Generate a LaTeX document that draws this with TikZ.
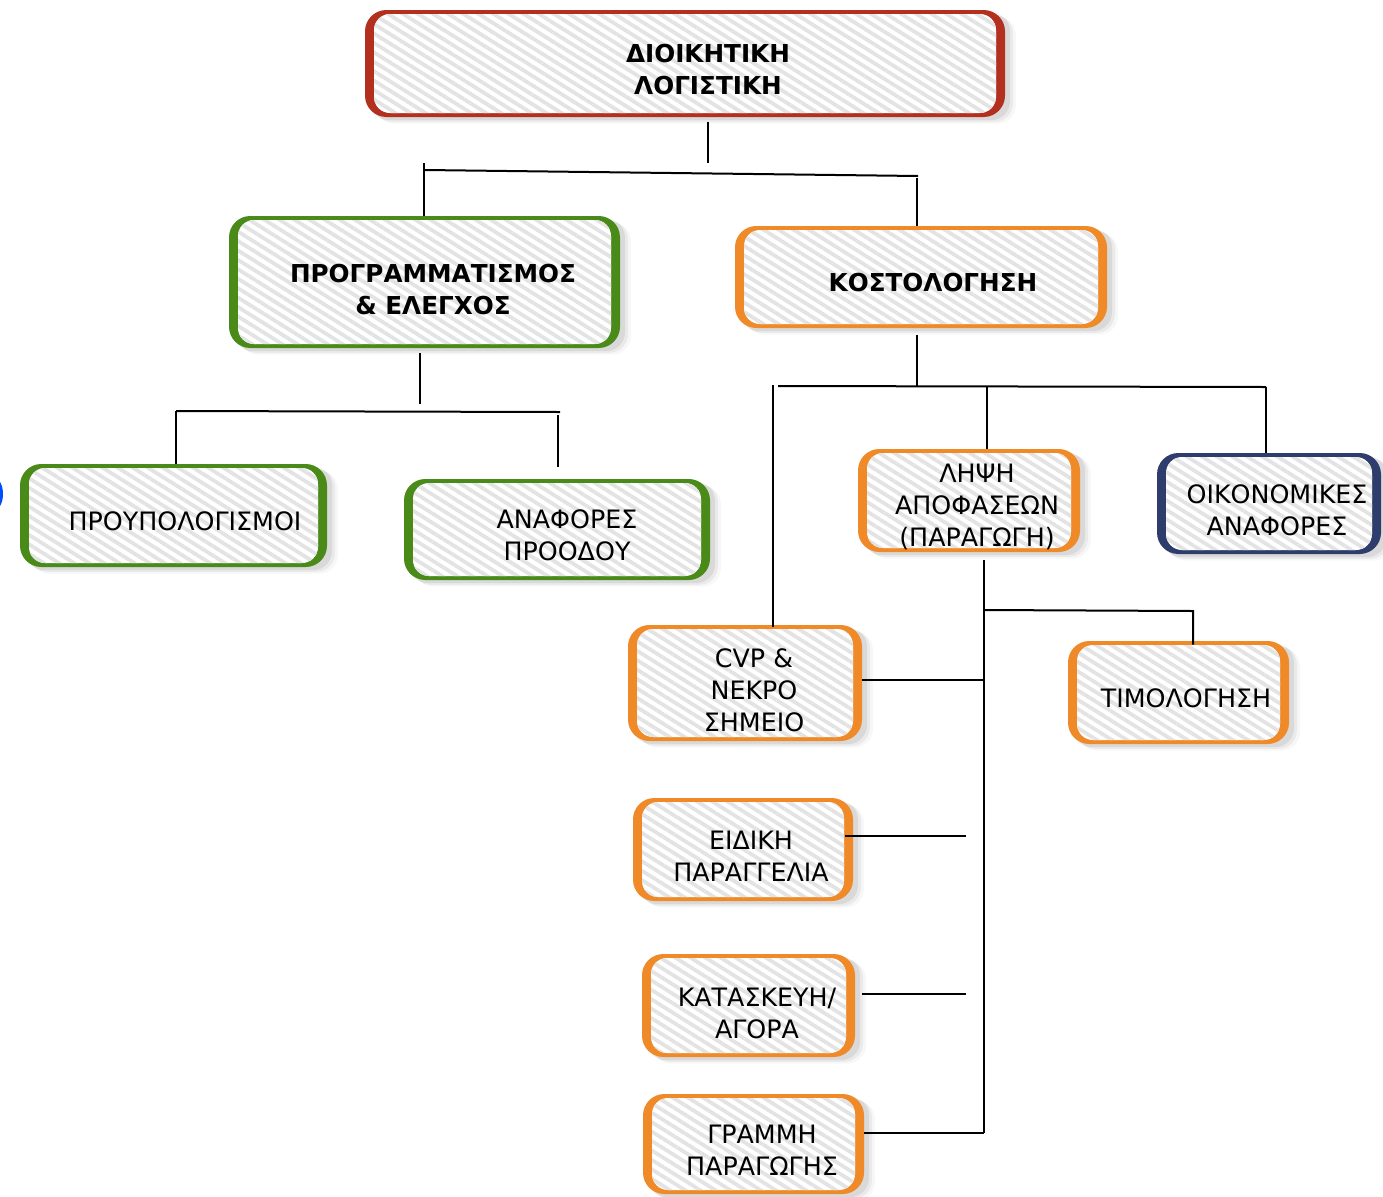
\documentclass[tikz,border=0pt]{standalone}
\usepackage{fontspec}
\setmainfont{DejaVu Sans}
\usetikzlibrary{patterns.meta,fit,calc}
\definecolor{cred}{HTML}{B3301F}
\definecolor{cgreen}{HTML}{4A8A18}
\definecolor{corange}{HTML}{F08A28}
\definecolor{cnavy}{HTML}{2E3D6B}
\definecolor{stripe}{HTML}{E3E3E3}
\tikzset{
  conn/.style={line width=1.5pt, black},
  txt/.style={align=center, inner sep=0pt, font=\fontsize{19}{24}\selectfont},
  btxt/.style={txt, font=\fontsize{18.5}{24}\selectfont\bfseries},
}
% #1 name, #2 x1, #3 y1, #4 x2, #5 y2, #6 colour
\newcommand\obox[6]{%
  \foreach \s/\o in {11/0.03,8/0.05,5/0.07}{%
    \fill[black, opacity=\o, rounded corners=14pt] (#2+\s,#3+\s*0.6) rectangle (#4+\s,#5+\s*0.6);}
  \fill[#6, rounded corners=16pt] (#2,#3) rectangle (#4,#5);
  \fill[white, rounded corners=12pt] (#2+9,#3+4) rectangle (#4-9,#5-4);
  \fill[pattern={Lines[angle=-32,distance=6pt,line width=2.8pt]}, pattern color=stripe, rounded corners=12pt] (#2+9,#3+4) rectangle (#4-9,#5-4);
  \node[fit={(#2,#3)(#4,#5)}, inner sep=0pt] (#1) {};
}
\begin{document}
\begin{tikzpicture}[x=0.75pt,y=-0.75pt]
\useasboundingbox (0,0) rectangle (1383,1196);
\fill[white] (0,0) rectangle (1383,1196);
% stray blue fragment at the left edge
\fill[blue!70!cyan] (0,482) .. controls (4,488) and (4,500) .. (0,506) -- cycle;

% boxes
\obox{top}{365}{10}{1005}{117}{cred}
\obox{prog}{229}{216}{620}{348}{cgreen}
\obox{kost}{735}{226}{1107}{328}{corange}
\obox{proyp}{20}{464}{327}{567}{cgreen}
\obox{anaf}{404}{479}{710}{580}{cgreen}
\obox{lipsi}{858}{449}{1080}{552}{corange}
\obox{oik}{1157}{453}{1381}{554}{cnavy}
\obox{cvp}{628}{625}{862}{741}{corange}
\obox{timol}{1068}{641}{1289}{744}{corange}
\obox{eid}{633}{798}{853}{901}{corange}
\obox{kat}{642}{954}{855}{1057}{corange}
\obox{gram}{643}{1094}{864}{1194}{corange}

% texts
\node[btxt] (topt) at (708,70) {ΔΙΟΙΚΗΤΙΚΗ\\ΛΟΓΙΣΤΙΚΗ};
\node[btxt] (progt) at (433,290) {ΠΡΟΓΡΑΜΜΑΤΙΣΜΟΣ\\\& ΕΛΕΓΧΟΣ};
\node[btxt] (kostt) at (933,283) {ΚΟΣΤΟΛΟΓΗΣΗ};
\node[txt] (proypt) at (185,521) {ΠΡΟΥΠΟΛΟΓΙΣΜΟΙ};
\node[txt] (anaft) at (567,535) {ΑΝΑΦΟΡΕΣ\\ΠΡΟΟΔΟΥ};
\node[txt] (lipsit) at (977,507) {ΛΗΨΗ\\ΑΠΟΦΑΣΕΩΝ\\(ΠΑΡΑΓΩΓΗ)};
\node[txt] (oikt) at (1277,510) {ΟΙΚΟΝΟΜΙΚΕΣ\\ΑΝΑΦΟΡΕΣ};
\node[txt] (cvpt) at (754,690) {CVP \&\\ΝΕΚΡΟ\\ΣΗΜΕΙΟ};
\node[txt] (timolt) at (1186,698) {ΤΙΜΟΛΟΓΗΣΗ};
\node[txt] (eidt) at (751,856) {ΕΙΔΙΚΗ\\ΠΑΡΑΓΓΕΛΙΑ};
\node[txt] (katt) at (757,1013) {ΚΑΤΑΣΚΕΥΗ/\\ΑΓΟΡΑ};
\node[txt] (gramt) at (762,1150) {ΓΡΑΜΜΗ\\ΠΑΡΑΓΩΓΗΣ};

% connectors: level 1
\coordinate (a1) at (708,163);
\coordinate (b1) at (425,170);
\coordinate (b2) at (918,176);
\coordinate (b1t) at (424,163);
\coordinate (b2t) at (917,178);
\draw[conn] ($(top.south -| a1)+(0,5)$) -- (a1);
\draw[conn] (b1) -- (b2);
\draw[conn] (b1t) -- (prog.north -| b1t);
\draw[conn] (b2t) -- (kost.north -| b2t);

% level 2 green
\coordinate (c1) at (420,404);
\coordinate (c2) at (176,411);
\coordinate (c3) at (560,412);
\coordinate (c4) at (558,415);
\coordinate (c5) at (558,467);
\draw[conn] ($(prog.south -| c1)+(0,5)$) -- (c1);
\draw[conn] (c2) -- (c3);
\draw[conn] (c2) -- (proyp.north -| c2);
\draw[conn] (c4) -- (c5);

% level 2 orange
\coordinate (d1) at (917,386);
\coordinate (d2) at (778,386);
\coordinate (d3) at (1266,387);
\coordinate (d4) at (773,385);
\coordinate (d5) at (987,387);
\draw[conn] ($(kost.south -| d1)+(0,7)$) -- (d1);
\draw[conn] (d2) -- (d3);
\draw[conn] (d4) -- ($(cvp.north -| d4)+(0,2)$);
\draw[conn] (d5) -- (lipsi.north -| d5);
\draw[conn] (d3) -- (oik.north -| d3);

% level 3
\coordinate (e1) at (984,560);
\coordinate (e2) at (984,1133);
\coordinate (e3) at (984,610);
\coordinate (e4) at (1193,611);
\coordinate (e5) at (984,680);
\coordinate (f1) at (966,836);
\coordinate (f2) at (966,994);
\draw[conn] (e1) -- (e2);
\draw[conn] (e3) -- (e4) -- ($(timol.north -| e4)+(0,4)$);
\draw[conn] (cvp.east |- e5) -- (e5);
\draw[conn] ($(eid.east |- f1)+(-8,0)$) -- (f1);
\draw[conn] ($(kat.east |- f2)+(7,0)$) -- (f2);
\draw[conn] (gram.east |- e2) -- (e2);
\end{tikzpicture}
\end{document}
